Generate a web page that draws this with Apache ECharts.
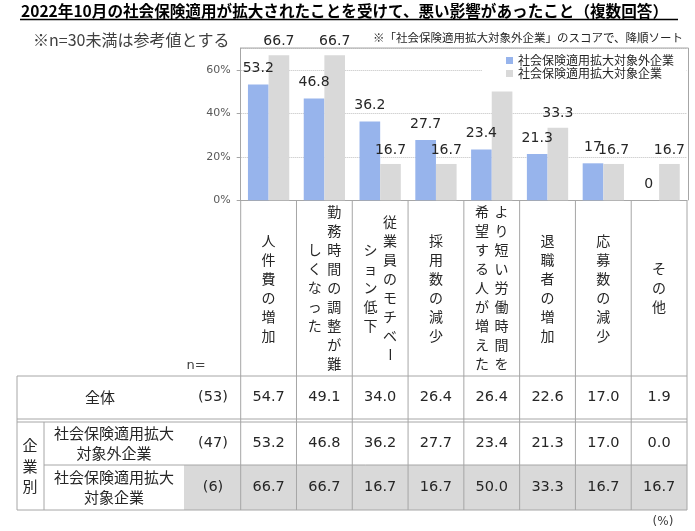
<!DOCTYPE html>
<html><head><meta charset="utf-8">
<script src="https://cdn.jsdelivr.net/npm/echarts@6/dist/echarts.min.js"></script>
<style>html,body{margin:0;padding:0;background:#fff}#c{width:695px;height:531px}</style>
</head><body><div id="c"></div>
<script>
// ---- data ----
const titleText = '2022年10月の社会保険適用が拡大されたことを受けて、悪い影響があったこと（複数回答）';
const noteLeft = '※n=30未満は参考値とする';
const noteRight = '※「社会保険適用拡大対象外企業」のスコアで、降順ソート';
const categories = ['人件費の増加', '勤務時間の調整が難\nしくなった', '従業員のモチベー\nション低下', '採用数の減少', 'より短い労働時間を\n希望する人が増えた', '退職者の増加', '応募数の減少', 'その他'];
const seriesNames = ['社会保険適用拡大対象外企業', '社会保険適用拡大対象企業'];
const outsideValues = [53.2, 46.8, 36.2, 27.7, 23.4, 21.3, 17.0, 0.0];
const targetValues = [66.7, 66.7, 16.7, 16.7, 50.0, 33.3, 16.7, 16.7];
const totalValues = [54.7, 49.1, 34.0, 26.4, 26.4, 22.6, 17.0, 1.9];
const rowLabels = ['全体', '社会保険適用拡大\n対象外企業', '社会保険適用拡大\n対象企業'];
const rowN = [53, 47, 6];
const groupLabel = '企業別';
const yMax = 70, yStep = 20;

const CJK = '"Noto Sans CJK JP", sans-serif';
const NUM = '"DejaVu Sans", "Noto Sans CJK JP", sans-serif';
const LINE = '#A6A6A6';

const chart = echarts.init(document.getElementById('c'), null, {renderer: 'canvas'});
const option = {
  animation: false,
  textStyle: {fontFamily: CJK},
  grid: {left: 240.7, right: 8, top: 48, bottom: 330.7, containLabel: false},
  legend: {
    data: seriesNames, orient: 'vertical', left: 482, top: 51,
    itemWidth: 7, itemHeight: 7, itemGap: 0, icon: 'rect',
    backgroundColor: '#fff', padding: [3, 12, 3, 24],
    textStyle: {fontSize: 12, color: '#262626', fontFamily: CJK, lineHeight: 13}
  },
  xAxis: {
    type: 'category', data: categories,
    axisLine: {show: true, lineStyle: {color: LINE}},
    axisTick: {show: false}, axisLabel: {show: false}, splitLine: {show: false}
  },
  yAxis: {
    type: 'value', min: 0, max: yMax, interval: yStep,
    axisLine: {show: true, lineStyle: {color: LINE}},
    axisTick: {show: true, length: 4, lineStyle: {color: LINE}},
    axisLabel: {formatter: '{value}%', fontSize: 11, color: '#595959', margin: 10, showMaxLabel: false, fontFamily: NUM},
    splitLine: {show: true, lineStyle: {color: '#BFBFBF', type: 'dotted', width: 1}}
  },
  series: [
    {name: seriesNames[0], type: 'bar', data: outsideValues, barGap: '0%', barCategoryGap: '26%',
     itemStyle: {color: '#97B4EC'},
     label: {show: true, position: 'top', distance: 9, fontSize: 14, color: '#262626', fontFamily: NUM}},
    {name: seriesNames[1], type: 'bar', data: targetValues, barGap: '0%', barCategoryGap: '26%',
     itemStyle: {color: '#D9D9D9'},
     label: {show: true, position: 'top', distance: 7, fontSize: 14, color: '#262626', fontFamily: NUM}}
  ]
};
chart.setOption(option);

// ---- layout helpers from the library's scales ----
const cx = i => chart.convertToPixel({xAxisIndex: 0}, i);
const yp = v => chart.convertToPixel({yAxisIndex: 0}, v);
const colW = cx(1) - cx(0);
const X0 = cx(0) - colW / 2;
const X1 = cx(categories.length - 1) + colW / 2;
const Y0 = yp(0), YT = yp(yMax);

const g = [];
function txt(x, y, s, o) {
  o = o || {};
  g.push({type: 'text', x: x, y: y, rotation: o.rotation || 0, z: 10, silent: true,
    style: {text: s, align: o.align || 'center', verticalAlign: 'middle',
      fontSize: o.size || 14, fontFamily: o.family || CJK, fontWeight: o.weight || 'normal',
      fill: o.color || '#262626', lineHeight: o.lh || undefined}});
}
function line(x1, y1, x2, y2, c, w) {
  g.push({type: 'line', z: 9, silent: true, shape: {x1: x1, y1: y1, x2: x2, y2: y2},
    style: {stroke: c || LINE, lineWidth: w || 1}});
}

// title + notes
txt(21, 11, titleText, {align: 'left', size: 15.6, weight: 'bold', color: '#000'});
line(20, 19.5, 678, 19.5, '#000', 1.5);
txt(33, 40, noteLeft, {align: 'left', size: 16, color: '#404040'});
txt(683, 38, noteRight, {align: 'right', size: 11.5, color: '#262626'});

// plot frame
line(X0, YT, X1 + 1.5, YT);
line(X1 + 1.5, YT, X1 + 1.5, Y0);

// category labels (vertical writing)
const midY = 288, rowH = 19, colGap = 19.5;
categories.forEach((c, i) => {
  const cols = c.split('\n');
  cols.forEach((col, k) => {
    const x = cx(i) + ((cols.length - 1) / 2 - k) * colGap;
    const chars = Array.from(col);
    chars.forEach((ch, j) => {
      const y = midY + (j - (chars.length - 1) / 2) * rowH;
      txt(x, y, ch, {size: 14, rotation: ch === 'ー' ? -Math.PI / 2 : 0});
    });
  });
});
txt(196, 366, 'n=', {size: 13, family: NUM, color: '#404040'});

// table
const rT = 376, r1b = 419, r2t = 422, r2b = 465, r3b = 510;
const TL = 17, GL = 44, GRAY_L = 184;
g.push({type: 'rect', z: 1, silent: true, shape: {x: GRAY_L, y: r2b, width: X1 - GRAY_L, height: r3b - r2b}, style: {fill: '#D9D9D9'}});
line(TL, rT, X1, rT);
line(TL, r1b, X1, r1b);
line(TL, r2t, X1, r2t);
line(GL, r2b, X1, r2b);
line(TL, r3b, X1, r3b);
line(TL, rT, TL, r3b);
line(GL, r2t, GL, r3b);
for (let k = 0; k <= categories.length; k++) {
  const x = X0 + k * colW;
  line(x, Y0, x, r3b);
}
const rowY = [(rT + r1b) / 2, (r2t + r2b) / 2, (r2b + r3b) / 2];
txt(100, rowY[0], rowLabels[0], {size: 15});
txt(114, rowY[1], rowLabels[1], {size: 15, lh: 20});
txt(114, rowY[2], rowLabels[2], {size: 15, lh: 20});
Array.from(groupLabel).forEach((ch, j) => txt(30, 466 + (j - 1) * 20.5, ch, {size: 15}));
rowN.forEach((n, r) => txt(213, rowY[r], '(' + n + ')', {size: 14.5, family: NUM}));
[totalValues, outsideValues, targetValues].forEach((arr, r) => {
  arr.forEach((v, i) => txt(cx(i), rowY[r], v.toFixed(1), {size: 14.5, family: NUM}));
});
txt(663, 522, '(%)', {size: 12, family: NUM, color: '#404040'});

chart.setOption({graphic: {elements: g}});
</script></body></html>
